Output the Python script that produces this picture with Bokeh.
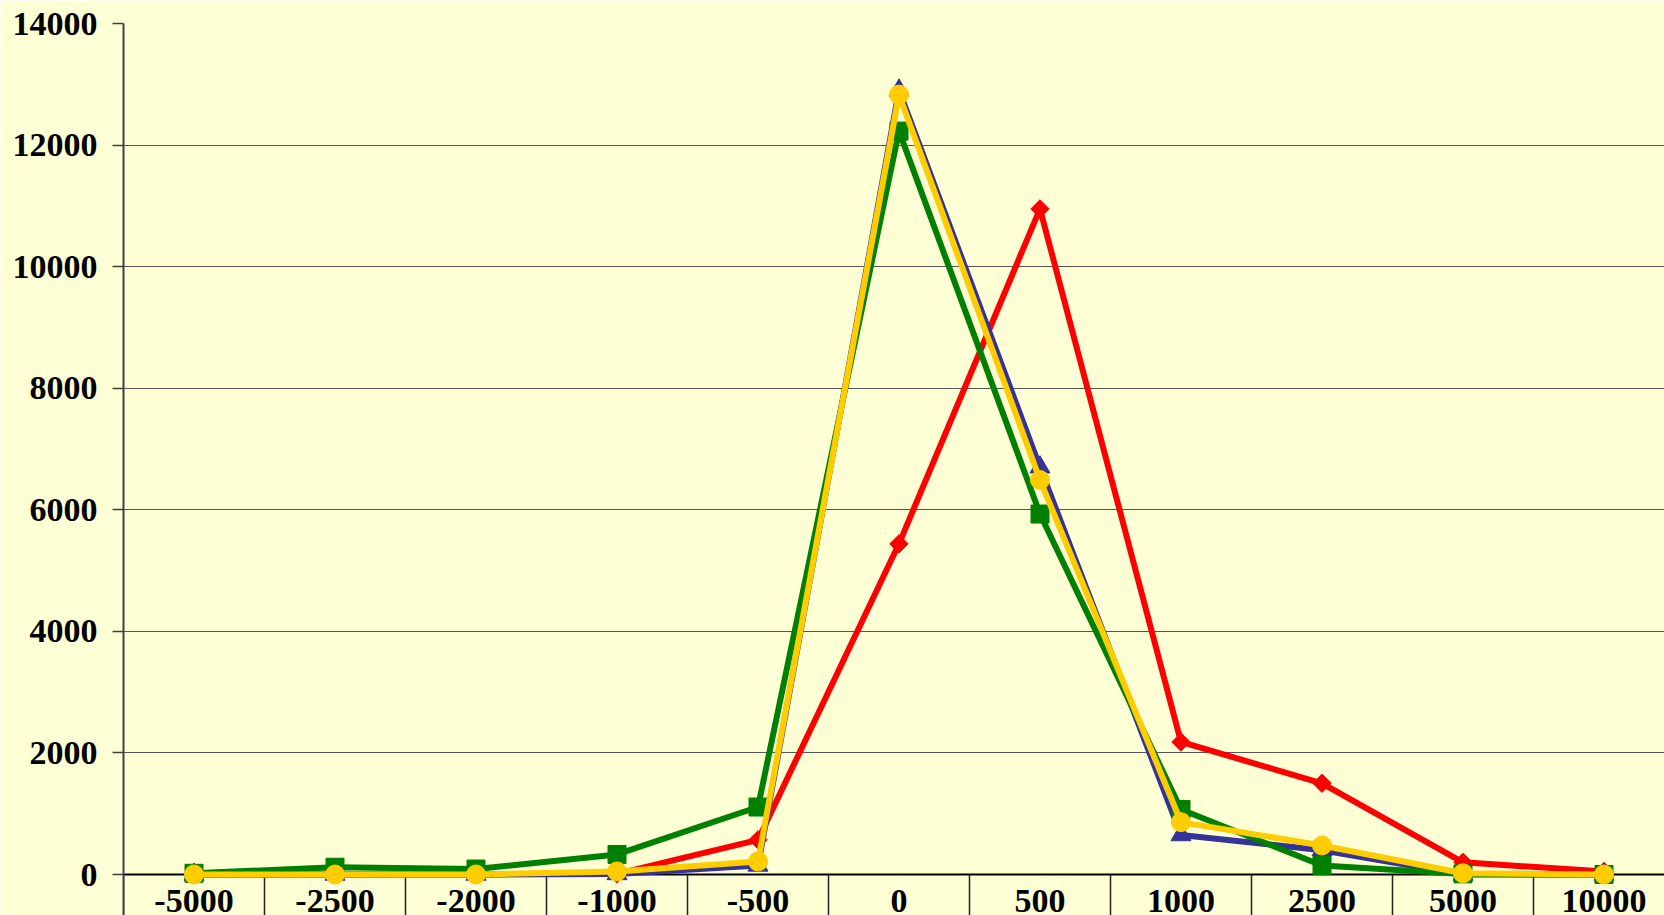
import math
from bokeh.plotting import figure
from bokeh.models import ColumnDataSource, Range1d, FixedTicker, LinearAxis, Grid
from bokeh.embed import file_html
from bokeh.resources import INLINE

# ---- data ----
categories = ["-5000", "-2500", "-2000", "-1000", "-500", "0", "500", "1000", "2500", "5000", "10000"]
red_values = [0, 0, 0, 10, 570, 5440, 10950, 2180, 1500, 200, 50]
blue_values = [0, 0, 0, 10, 150, 12900, 6700, 650, 400, 0, 0]
green_values = [20, 120, 90, 330, 1110, 12230, 5930, 1070, 148, 10, 0]
yellow_values = [0, 0, 0, 50, 214, 12830, 6490, 861, 477, 20, 0]
y_ticks = [0, 2000, 4000, 6000, 8000, 10000, 12000, 14000]

idx = list(range(len(categories)))
src = ColumnDataSource(dict(x=idx, red=red_values, blue=blue_values,
                            green=green_values, yellow=yellow_values))

BG = "#FFFFD6"
FONT = "Liberation Serif"

p = figure(width=1664, height=915, output_backend="svg", toolbar_location=None,
           x_range=Range1d(-0.5, -0.5 + 1541 / 141), y_range=Range1d(-674.5, 14000),
           x_axis_type=None, y_axis_type=None,
           min_border_left=123, min_border_right=0, min_border_top=23, min_border_bottom=0)
p.background_fill_color = BG
p.border_fill_color = BG
p.outline_line_color = None

# y axis
yaxis = LinearAxis(ticker=FixedTicker(ticks=y_ticks, minor_ticks=[]))
yaxis.axis_line_color = "#404040"
yaxis.axis_line_width = 2
yaxis.major_tick_line_color = "#404040"
yaxis.major_tick_line_width = 1.5
yaxis.major_tick_out = 11
yaxis.major_tick_in = 0
yaxis.minor_tick_line_color = None
yaxis.major_label_standoff = 15
yaxis.major_label_text_font = FONT
yaxis.major_label_text_font_style = "bold"
yaxis.major_label_text_font_size = "34px"
yaxis.major_label_text_color = "black"
p.add_layout(yaxis, "left")

# x axis, sitting on y = 0
xaxis = LinearAxis(ticker=FixedTicker(ticks=idx, minor_ticks=[i - 0.5 for i in range(len(categories) + 1)]),
                   fixed_location=0)
xaxis.major_label_overrides = {i: c for i, c in enumerate(categories)}
xaxis.axis_line_color = "black"
xaxis.axis_line_width = 2
xaxis.major_tick_line_color = None
xaxis.major_tick_out = 0
xaxis.major_tick_in = 0
xaxis.minor_tick_out = 60
xaxis.minor_tick_in = 0
xaxis.minor_tick_line_color = "#202020"
xaxis.minor_tick_line_width = 1.5
xaxis.major_label_standoff = -45
xaxis.major_label_text_font = FONT
xaxis.major_label_text_font_style = "bold"
xaxis.major_label_text_font_size = "34px"
xaxis.major_label_text_color = "black"
p.add_layout(xaxis, "below")

# horizontal gridlines
grid = Grid(dimension=1, ticker=FixedTicker(ticks=y_ticks[1:]))
grid.grid_line_color = "#555555"
grid.grid_line_width = 1
p.add_layout(grid)

LW = 6
series = [
    ("red", "#FF0000", "square", 13, math.pi / 4),
    ("blue", "#333399", "triangle", 20, 0),
    ("green", "#008000", "square", 18, 0),
    ("yellow", "#FFCC00", "circle", 19, 0),
]
for col, color, marker, size, ang in series:
    p.line("x", col, source=src, line_color=color, line_width=LW, line_join="round",
           level="annotation")
    p.scatter("x", col, source=src, marker=marker, size=size, angle=ang,
              fill_color=color, line_color=color, level="annotation")

open("out.html", "w").write(file_html(p, INLINE))
